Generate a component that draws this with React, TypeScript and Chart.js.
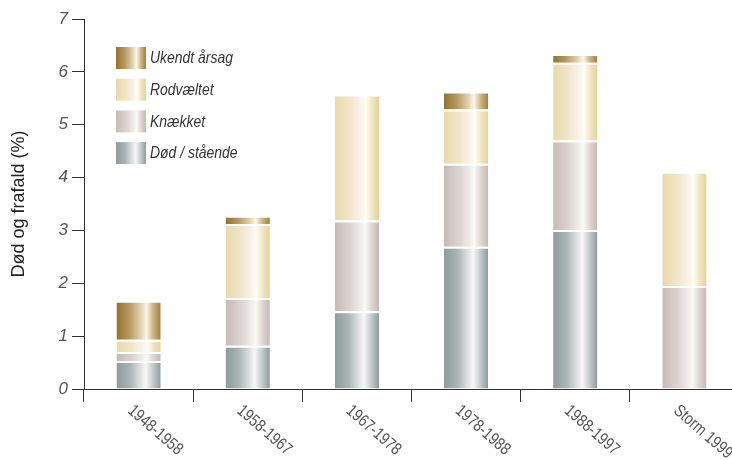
import React, { useEffect, useRef } from "react";
import { Chart, registerables } from "chart.js";

Chart.register(...registerables);

const categories = ["1948-1958", "1958-1967", "1967-1978", "1978-1988", "1988-1997", "Storm 1999"];
const dodStaende = [0.53, 0.82, 1.47, 2.69, 3.01, 0];
const knaekket = [0.17, 0.9, 1.72, 1.57, 1.69, 1.95];
const rodvaeltet = [0.23, 1.4, 2.38, 1.03, 1.47, 2.16];
const ukendt = [0.74, 0.16, 0, 0.34, 0.17, 0];
const yTicks = [0, 1, 2, 3, 4, 5, 6, 7];

const BAR_PCT = 0.405;
const SANS = '"Liberation Sans", Arial, sans-serif';

type Stops = [number, string][];

const gradDod: Stops = [[0, "#8d9b9b"], [0.3, "#aab4b4"], [0.55, "#e0e2e2"], [0.66, "#f7f7f7"], [0.82, "#c6cccc"], [1, "#8f9b9b"]];
const gradKnaek: Stops = [[0, "#c6bab7"], [0.35, "#ddd4d2"], [0.55, "#ede8e6"], [0.68, "#fafaf4"], [0.85, "#dcd2d0"], [1, "#c4b8b6"]];
const gradRod: Stops = [[0, "#e9d9a8"], [0.35, "#f1e6cc"], [0.55, "#f8f0e6"], [0.7, "#fffdf5"], [0.85, "#f0e4c0"], [1, "#e4d19c"]];
const gradUkendt: Stops = [[0, "#94712f"], [0.3, "#b89b63"], [0.55, "#e0d2b0"], [0.68, "#fbf7ec"], [0.82, "#d0b98a"], [1, "#a07f40"]];

function makeGrad(c: CanvasRenderingContext2D, x0: number, x1: number, stops: Stops) {
  const g = c.createLinearGradient(x0, 0, x1, 0);
  stops.forEach(([o, col]) => g.addColorStop(o, col));
  return g;
}

const scriptGrad = (stops: Stops) => (ctx: any) => {
  const chart = ctx.chart;
  const xs = chart.scales && chart.scales.x;
  if (!xs || ctx.dataIndex == null || !xs.width) return stops[0][1];
  const cx = xs.getPixelForValue(ctx.dataIndex);
  const w = (xs.width / categories.length) * BAR_PCT;
  return makeGrad(chart.ctx, cx - w / 2, cx + w / 2, stops);
};

const seriesDefs = [
  { label: "Død / stående", data: dodStaende, stops: gradDod },
  { label: "Knækket", data: knaekket, stops: gradKnaek },
  { label: "Rodvæltet", data: rodvaeltet, stops: gradRod },
  { label: "Ukendt årsag", data: ukendt, stops: gradUkendt },
];

const NARROW_SCALE = 0.82;

const overlayPlugin = {
  id: "overlay",
  afterDraw(chart: any) {
    const c: CanvasRenderingContext2D = chart.ctx;
    const xs = chart.scales.x;
    const bottom = chart.chartArea.bottom;
    // x labels rotated clockwise
    c.save();
    c.fillStyle = "#555";
    c.font = `17px ${SANS}`;
    c.textAlign = "left";
    c.textBaseline = "top";
    categories.forEach((lab, i) => {
      const cx = xs.getPixelForValue(i);
      c.save();
      c.translate(cx - 3, bottom + 13);
      c.rotate((41 * Math.PI) / 180);
      c.scale(NARROW_SCALE, 1);
      c.fillText(lab, 0, 0);
      c.restore();
    });
    c.restore();
    // legend
    c.save();
    const legendItems = [...seriesDefs].reverse();
    legendItems.forEach((s, i) => {
      const y = 47 + i * 31.7;
      const x = 116;
      c.fillStyle = makeGrad(c, x, x + 30, s.stops);
      c.fillRect(x, y, 30, 22);
      c.save();
      c.fillStyle = "#333";
      c.font = `italic 17px ${SANS}`;
      c.textAlign = "left";
      c.textBaseline = "middle";
      c.translate(150, y + 11.5);
      c.scale(NARROW_SCALE, 1);
      c.fillText(s.label, 0, 0);
      c.restore();
    });
    c.restore();
  },
};

export default function App() {
  const ref = useRef<HTMLCanvasElement | null>(null);
  useEffect(() => {
    if (!ref.current) return;
    const chart = new Chart(ref.current, {
      type: "bar",
      data: {
        labels: categories,
        datasets: seriesDefs.map((s) => ({
          label: s.label,
          data: s.data,
          backgroundColor: scriptGrad(s.stops),
          borderColor: "#ffffff",
          borderWidth: { top: 2, right: 0, bottom: 0, left: 0 },
          borderSkipped: "start",
          barPercentage: BAR_PCT,
          categoryPercentage: 1,
        })),
      },
      options: {
        responsive: false,
        animation: false,
        devicePixelRatio: 1,
        layout: { padding: { left: 0, top: 19, right: 6, bottom: 0 } },
        plugins: { legend: { display: false }, tooltip: { enabled: false } },
        scales: {
          x: {
            stacked: true,
            offset: true,
            grid: { display: true, drawOnChartArea: false, drawTicks: true, tickLength: 13, color: "#333", offset: true },
            border: { display: true, color: "#333", width: 1 },
            ticks: { display: false },
            afterFit: (s: any) => { s.height = 71; },
          },
          y: {
            stacked: true,
            min: 0,
            max: 7,
            afterBuildTicks: (s: any) => { s.ticks = yTicks.map((v) => ({ value: v })); },
            grid: { display: true, drawOnChartArea: false, drawTicks: true, tickLength: 12, color: "#333" },
            border: { display: true, color: "#333", width: 1 },
            ticks: {
              color: "#555",
              padding: 4,
              font: { family: SANS, size: 17, style: "italic" },
            },
            title: {
              display: true,
              text: "Død og frafald (%)",
              color: "#222",
              font: { family: SANS, size: 18 },
              padding: { top: 8, bottom: 0 },
            },
            afterFit: (s: any) => { s.width = 84; },
          },
        },
      },
      plugins: [overlayPlugin],
    });
    return () => chart.destroy();
  }, []);
  return (
    <div style={{ position: "absolute", left: 0, top: 0, width: 732, height: 460, overflow: "hidden", background: "#fff" }}>
      <canvas ref={ref} width={745} height={460} style={{ display: "block" }} />
    </div>
  );
}
